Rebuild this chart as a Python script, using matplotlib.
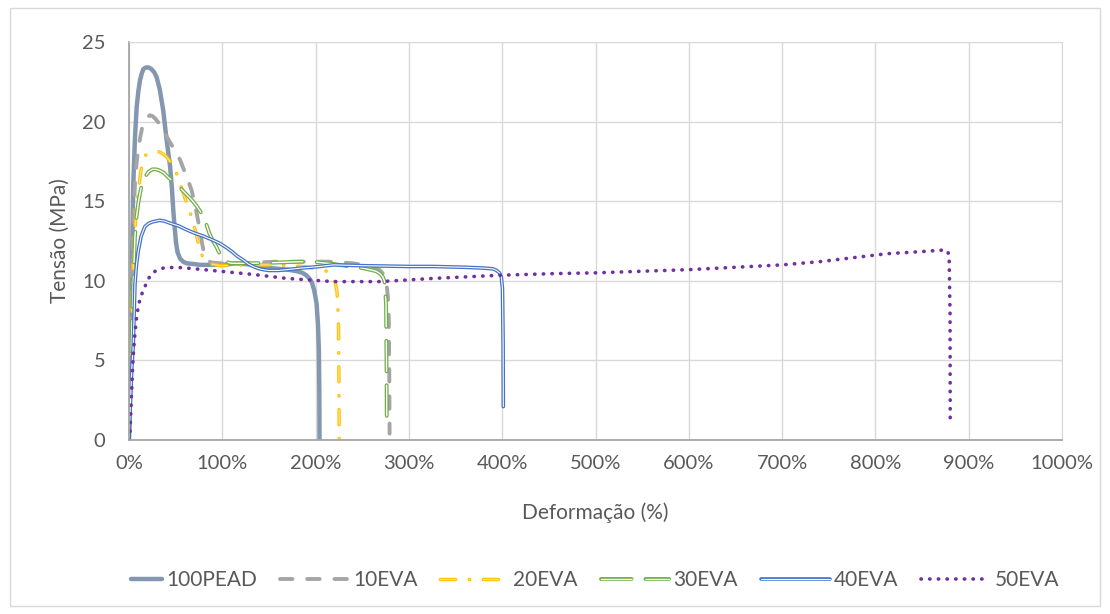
import numpy as np
import matplotlib
matplotlib.use("Agg")
import matplotlib.pyplot as plt
import matplotlib.patheffects as pe
from matplotlib.patches import Rectangle

plt.rcParams['font.family'] = ['Lato', 'DejaVu Sans']

## ===================== data (x em %, y em MPa) =====================

pead_x = [0, 1, 2.8, 4.6, 6.4, 8.2, 10, 11.8, 13.6, 15.4, 18, 21, 24, 27, 29.6, 33, 36.7, 40, 42, 44,
          46, 47.5, 49, 50.4, 52, 54.7, 58, 61.8, 70, 76, 100, 115, 135, 151, 170, 180, 186, 190, 194, 196,
          198.5, 201, 202.5, 203.5, 204, 204.2]
pead_y = [0, 3.6, 9.8, 16.1, 19, 20.9, 21.9, 22.6, 23.0, 23.3, 23.4, 23.4, 23.3, 23.1, 22.8, 22.0, 20.7, 19.0, 18.1, 17.2,
          15.8, 14.4, 13.3, 12.4, 11.8, 11.4, 11.2, 11.1, 11.05, 11.0, 11.0, 11.1, 11.0, 10.8, 10.7, 10.6, 10.5, 10.35, 10.1, 9.9,
          9.4, 8.6, 7.3, 5.7, 3, 0]

eva10_x = [0, 1, 2, 4, 5, 6.4, 8, 10, 12, 14, 17, 20, 22.5, 25, 28, 32, 36.6, 41, 45, 50,
           54.7, 60, 64, 67, 70, 73, 76, 78.5, 81, 84, 88, 97.5, 120, 158, 190, 215, 240, 251, 258, 263,
           267, 270, 272, 274, 276, 277.5, 278.5, 279, 279.3]
eva10_y = [0, 3.5, 7, 12, 14, 16.1, 17.3, 18.3, 19, 19.6, 20.0, 20.3, 20.4, 20.35, 20.2, 19.9, 19.5, 19.0, 18.6, 18.1,
           17.6, 16.8, 16.2, 15.7, 15.0, 14.1, 13.2, 12.3, 11.6, 11.3, 11.15, 11.1, 11.1, 11.2, 11.2, 11.2, 11.1, 11.0, 10.95, 10.85,
           10.75, 10.6, 10.45, 10.2, 9.8, 9.0, 7.5, 4, 0.4]

eva20_x = [0, 1, 2, 3, 4, 5, 6.4, 8, 11, 13, 15.4, 18, 22, 27, 32.5, 37, 40, 44, 47.5, 52,
           56, 60, 65, 70, 73, 76, 79, 83, 88, 98, 130, 160, 185, 197, 205, 210, 215, 218, 221, 223,
           224.5, 225, 225.3]
eva20_y = [0, 2.5, 5, 7.5, 9.9, 11.8, 13.2, 14.6, 16.1, 17.0, 17.6, 17.9, 18.05, 18.1, 18.1, 17.95, 17.8, 17.5, 17.2, 16.6,
           15.9, 15.2, 14.4, 13.4, 12.7, 11.9, 11.5, 11.2, 11.05, 10.95, 11.0, 11.0, 10.9, 10.8, 10.7, 10.65, 10.5, 10.25, 9.9, 9.3,
           7.5, 4, 0]

eva30_x = [0, 1, 2, 3, 4.6, 6.4, 8, 10, 11.8, 14, 18, 21, 25, 29, 32, 37, 42, 47, 52.9, 57,
           62, 67, 72.5, 77, 81.4, 86, 90, 94, 98, 103, 110, 133, 160, 183, 197, 220, 237, 250, 258, 265,
           269, 272, 274, 275.5, 276, 276.3]
eva30_y = [0, 2.2, 4.5, 7, 9.9, 12.8, 14, 14.9, 15.5, 16.1, 16.6, 16.85, 17.0, 17.0, 16.95, 16.8, 16.5, 16.25, 16.0, 15.7,
           15.4, 15.1, 14.7, 14.3, 13.8, 13.0, 12.5, 12.1, 11.6, 11.2, 11.1, 11.1, 11.15, 11.2, 11.2, 11.05, 10.9, 10.8, 10.7, 10.6,
           10.45, 10.25, 9.95, 8.5, 5, 1.25]

eva40_x = [0, 1, 2, 3, 4.6, 6.4, 8, 10, 13, 17, 21, 25, 29, 33, 38, 45, 53, 62, 70, 80,
           90, 97.5, 104, 110, 116, 122.5, 128, 135, 140, 144, 150, 160, 169, 185, 204.6, 219, 250, 300, 326, 360,
           380, 390, 394, 397, 399, 400.3, 401, 401.2]
eva40_y = [0, 1.5, 3, 4.5, 6, 9.8, 11.0, 11.9, 12.8, 13.4, 13.6, 13.7, 13.75, 13.8, 13.75, 13.6, 13.45, 13.2, 13.0, 12.8,
           12.55, 12.35, 12.1, 11.85, 11.55, 11.3, 11.05, 10.85, 10.75, 10.7, 10.65, 10.65, 10.7, 10.8, 10.9, 11.0, 10.95, 10.9, 10.9, 10.85,
           10.8, 10.75, 10.65, 10.5, 10.25, 9.5, 6, 2.1]

eva50_x = [0, 1, 2.5, 3.9, 5, 6.4, 8, 10, 12.5, 15.4, 19, 22.5, 28, 36.8, 50, 61.8, 80, 97.5, 133, 169,
           219, 269, 326, 397.6, 455, 500, 600, 700, 740, 776, 812, 848, 865, 873, 877, 879, 880, 880.2]
eva50_y = [0, 0.4, 2.5, 4.6, 5.7, 6.7, 7.6, 8.4, 9.0, 9.4, 9.9, 10.3, 10.6, 10.8, 10.85, 10.8, 10.7, 10.6, 10.4, 10.15,
           9.95, 9.95, 10.15, 10.35, 10.45, 10.5, 10.7, 11.0, 11.2, 11.45, 11.7, 11.83, 11.9, 11.93, 11.9, 11.6, 8, 1.15]

x_ticks = list(range(0, 1001, 100))
y_ticks = [0, 5, 10, 15, 20, 25]

## ===================== figure =====================

fig = plt.figure(figsize=(11.1, 6.14), dpi=100)
ax = fig.add_axes([129/1110, 1 - 440/614, (1062-129)/1110, (440-42)/614])

ax.plot(pead_x, pead_y, color='#8497B0', lw=3.2, label='100PEAD', solid_capstyle='round', solid_joinstyle='round')
ax.plot(eva10_x, eva10_y, color='#A5A5A5', lw=2.8, ls=(0, (3.2, 3.8)), label='10EVA', dash_capstyle='round')
ax.plot(eva20_x, eva20_y, color='#FFE08A', lw=0.9, ls=(0, (12, 11, 0.3, 11)), label='20EVA', dash_capstyle='round',
        path_effects=[pe.Stroke(linewidth=2.5, foreground='#FFC000'), pe.Normal()])
ax.plot(eva30_x, eva30_y, color='white', lw=1.0, ls=(0, (22, 10)), label='30EVA', dash_capstyle='round',
        path_effects=[pe.Stroke(linewidth=2.8, foreground='#70AD47'), pe.Normal()])
ax.plot(eva40_x, eva40_y, color='white', lw=0.8, label='40EVA', solid_capstyle='round',
        path_effects=[pe.Stroke(linewidth=2.6, foreground='#4472C4'), pe.Normal()])
ax.plot(eva50_x, eva50_y, color='#7030A0', lw=2.6, ls=(0, (0.1, 2.3)), label='50EVA', dash_capstyle='round')

ax.set_xlim(0, 1000)
ax.set_ylim(0, 25)
ax.set_xticks(x_ticks)
ax.set_xticklabels([f"{v}%" for v in x_ticks])
ax.set_yticks(y_ticks)
ax.grid(True, color='#D9D9D9', lw=1)
ax.set_axisbelow(True)
ax.tick_params(axis='x', length=0, labelsize=14.5, colors='#595959', pad=11)
ax.tick_params(axis='y', length=0, labelsize=14.5, colors='#595959', pad=17)

for s in ['top', 'right']:
    ax.spines[s].set_color('#D9D9D9')
for s in ['left', 'bottom']:
    ax.spines[s].set_color('#A6A6A6')
    ax.spines[s].set_linewidth(1.3)

ax.set_xlabel('Deformação (%)', fontsize=15, color='#595959', labelpad=22)
ax.set_ylabel('Tensão (MPa)', fontsize=15, color='#595959', labelpad=9)

leg = fig.legend(loc='center', ncol=6, bbox_to_anchor=(0.519, 0.055), frameon=False,
                 fontsize=15, handlelength=3.3, columnspacing=1.1, handletextpad=0.2,
                 labelcolor='#595959')

# shorter handle for 100PEAD, as in the original
h0 = leg.legend_handles[0]
xd = np.asarray(h0.get_xdata(), dtype=float)
h0.set_xdata(np.linspace(xd[0] + 0.55 * (xd[-1] - xd[0]), xd[-1], len(xd)))

fig.patches.append(Rectangle((10/1110, 8/614), 1090/1110, 598/614, transform=fig.transFigure,
                             fill=False, edgecolor='#D9D9D9', lw=1))

plt.savefig("out.png", dpi=100)
